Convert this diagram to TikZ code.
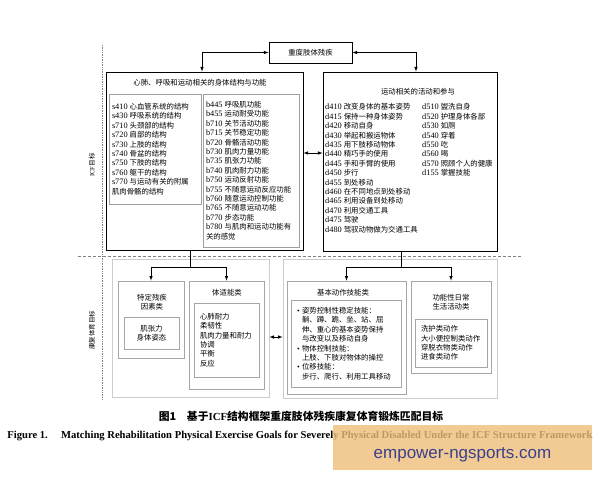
\documentclass[tikz,border=0pt]{standalone}
\usepackage{fontspec}
\setmainfont{Liberation Serif}
\newfontfamily\cjk{Noto Sans CJK SC}
\newfontfamily\wmfont{Liberation Sans}
\usetikzlibrary{arrows, positioning}
\definecolor{wmorange}{HTML}{EDBE78}
\definecolor{wmblue}{HTML}{3C3F8E}
\newcommand{\icode}[1]{{\rmfamily\fontsize{8.3}{9.4}\selectfont #1}\hspace{2pt}}
\tikzset{
  txt/.style={font={\fontsize{7.4}{9.4}\cjk}, inner sep=0pt},
  bigbox/.style={draw=black, line width=0.9pt, inner sep=0pt},
  listbox/.style={draw=gray!75, line width=0.6pt, align=left, inner xsep=3pt, inner ysep=0pt},
  lowbox/.style={draw=gray!40, line width=0.8pt, inner sep=0pt},
  catbox/.style={draw=gray!70, line width=0.8pt},
  link/.style={line width=0.6pt, >=latex}
}

\begin{document}
\begin{tikzpicture}[x=1pt, y=-1pt]
\useasboundingbox (0,0) rectangle (600,480);
            \node[bigbox, txt, minimum width=83pt, minimum height=21pt] (disab) at (310.5,52.5) {重度肢体残疾};
            \node[bigbox, minimum width=197pt, minimum height=178pt] (bodyfn) at (204.5,161) {};
            \node[bigbox, minimum width=174pt, minimum height=179pt] (activ) at (410,161.5) {};
            \node[txt] (bodyT) at (200,83) {心肺、呼吸和运动相关的身体结构与功能};
            \node[txt] (activT) at (418,92) {运动相关的活动和参与};
            \node[listbox, txt, inner xsep=3pt, text width=86pt, minimum height=110pt] (struct) at (155,149) {\icode{s410}心血管系统的结构\\ \icode{s430}呼吸系统的结构\\ \icode{s710}头颈部的结构\\ \icode{s720}肩部的结构\\ \icode{s730}上肢的结构\\ \icode{s740}骨盆的结构\\ \icode{s750}下肢的结构\\ \icode{s760}躯干的结构\\ \icode{s770}与运动有关的附属\\ 肌肉骨骼的结构};
            \node[listbox, txt, inner xsep=3pt, text width=90pt, minimum height=153pt] (funct) at (251,170.5) {\icode{b445}呼吸肌功能\\ \icode{b455}运动耐受功能\\ \icode{b710}关节活动功能\\ \icode{b715}关节稳定功能\\ \icode{b720}骨骼活动功能\\ \icode{b730}肌肉力量功能\\ \icode{b735}肌张力功能\\ \icode{b740}肌肉耐力功能\\ \icode{b750}运动反射功能\\ \icode{b755}不随意运动反应功能\\ \icode{b760}随意运动控制功能\\ \icode{b765}不随意运动功能\\ \icode{b770}步态功能\\ \icode{b780}与肌肉和运动功能有\\ 关的感觉};
            \node[txt, align=left, anchor=north west] (actA) at (325,103.5) {\icode{d410}改变身体的基本姿势\\ \icode{d415}保持一种身体姿势\\ \icode{d420}移动自身\\ \icode{d430}举起和搬运物体\\ \icode{d435}用下肢移动物体\\ \icode{d440}精巧手的使用\\ \icode{d445}手和手臂的使用\\ \icode{d450}步行\\ \icode{d455}到处移动\\ \icode{d460}在不同地点到处移动\\ \icode{d465}利用设备到处移动\\ \icode{d470}利用交通工具\\ \icode{d475}驾驶\\ \icode{d480}驾驭动物做为交通工具};
            \node[txt, align=left, anchor=north west] (actB) at (422,103.5) {\icode{d510}盥洗自身\\ \icode{d520}护理身体各部\\ \icode{d530}如厕\\ \icode{d540}穿着\\ \icode{d550}吃\\ \icode{d560}喝\\ \icode{d570}照顾个人的健康\\ \icode{d155}掌握技能};
            \draw[link, <->] (disab.west) -| ([xshift=-2.5pt]bodyfn.north);
            \draw[link, <->] (disab.east) -| ([xshift=6pt]activ.north);
            \draw[link, <->] (bodyfn.east |- 0,153) -- (activ.west |- 0,153);
            \draw[gray, densely dotted, line width=0.7pt] (102,45) -- (102,400);
            \draw[gray, densely dashed, line width=0.6pt] (78,256) -- (522,256);
            \node[txt, rotate=90, font={\fontsize{6.5}{8}\cjk}] (icfLab) at (92,165) {{\rmfamily ICF}目标};
            \node[txt, rotate=90, font={\fontsize{6.5}{8}\cjk}] (rehabLab) at (92,330) {康复体育目标};
            \node[lowbox, minimum width=157pt, minimum height=138pt] (lowL) at (190.5,328) {};
            \node[lowbox, minimum width=214pt, minimum height=139pt] (lowR) at (390,328.5) {};
            \node[catbox, minimum width=66pt, minimum height=77pt] (disF) at (151,319.5) {};
            \node[txt, align=center] (disFT) at (152,302) {特定残疾\\因素类};
            \node[catbox, txt, align=center, minimum width=55pt, minimum height=32pt] (disFIn) at (151.5,333) {肌张力\\身体姿态};
            \node[catbox, minimum width=75pt, minimum height=108pt] (fitB) at (226.5,335) {};
            \node[txt] (fitBT) at (227,293) {体适能类};
            \node[catbox, txt, align=left, inner xsep=6pt, text width=53pt, minimum height=74pt] (fitIn) at (226.5,340) {心肺耐力\\ 柔韧性\\ 肌肉力量和耐力\\ 协调\\ 平衡\\ 反应};
            \node[catbox, minimum width=119pt, minimum height=113pt] (basic) at (346.5,337.5) {};
            \node[txt] (basicT) at (343,293) {基本动作技能类};
            \node[catbox, txt, align=left, inner xsep=6pt, text width=98pt, minimum height=87pt] (basicIn) at (346,343.5) {\makebox[5pt][l]{\rmfamily\textbullet}姿势控制性稳定技能：\\ \hspace*{5pt}躺、蹲、跪、坐、站、屈\\ \hspace*{5pt}伸、重心的基本姿势保持\\ \hspace*{5pt}与改变以及移动自身\\ \makebox[5pt][l]{\rmfamily\textbullet}物体控制技能：\\ \hspace*{5pt}上肢、下肢对物体的操控\\ \makebox[5pt][l]{\rmfamily\textbullet}位移技能：\\ \hspace*{5pt}步行、爬行、利用工具移动};
            \node[catbox, minimum width=80pt, minimum height=92pt] (daily) at (451,327) {};
            \node[txt, align=center] (dailyT) at (451,302) {功能性日常\\生活活动类};
            \node[catbox, txt, align=left, inner xsep=6pt, text width=60pt, minimum height=48pt] (dailyIn) at (451,343) {洗护类动作\\ 大小便控制类动作\\ 穿脱衣物类动作\\ 进食类动作};
            \draw[link] (bodyfn.south -| lowL.center) -- ++(0,17) coordinate (jL);
            \draw[link, ->] (jL) -| (disF.north);
            \draw[link, ->] (jL) -| (fitB.north);
            \draw[link] ([xshift=-9pt]activ.south) -- ++(0,16) coordinate (jR);
            \draw[link, ->] (jR) -| (basic.north);
            \draw[link, ->] (jR) -| (daily.north);
            \draw[link, <->] (lowL.east |- 0,337) -- (lowR.west |- 0,337);
            \node[font={\fontsize{10.8}{12}\cjk\bfseries}] (capZh) at (301,416) {图1\quad 基于{\rmfamily\bfseries ICF}结构框架重度肢体残疾康复体育锻炼匹配目标};
            \node[font={\fontsize{10.6}{12}\selectfont\bfseries}] (capEn) at (300,436) {Figure 1.\quad\ Matching Rehabilitation Physical Exercise Goals for Severely Physical Disabled Under the ICF Structure Framework};
            \node[fill=wmorange, fill opacity=0.8, minimum width=259pt, minimum height=45pt] (wmark) at (462.5,447.5) {};
            \node[text=wmblue, font={\fontsize{17}{20}\wmfont}] (wmText) at ([yshift=-7pt]wmark.center) {empower-ngsports.com};
        \end{tikzpicture}
\end{document}
